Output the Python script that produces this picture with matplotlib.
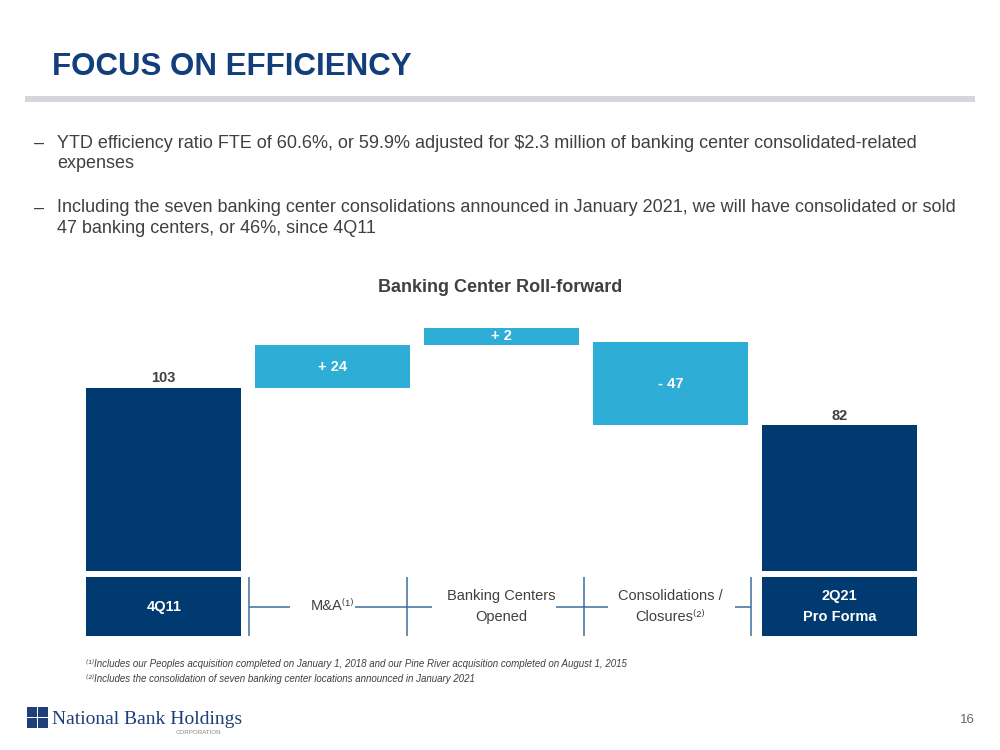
import matplotlib.pyplot as plt
from matplotlib.patches import Rectangle

# waterfall data
categories = ["4Q11", "M&A", "Banking Centers\nOpened", "Consolidations /\nClosures", "2Q21\nPro Forma"]
cat_notes = ["", "\u207d\u00b9\u207e", "", "\u207d\u00b2\u207e", ""]
changes = [103, 24, 2, -47, 82]
is_total = [True, False, False, False, True]

bullets = [
    "YTD efficiency ratio FTE of 60.6%, or 59.9% adjusted for $2.3 million of banking center consolidated-related\nexpenses",
    "Including the seven banking center consolidations announced in January 2021, we will have consolidated or sold\n47 banking centers, or 46%, since 4Q11",
]
footnotes = [
    "\u207d\u00b9\u207eIncludes our Peoples acquisition completed on January 1, 2018 and our Pine River acquisition completed on August 1, 2015",
    "\u207d\u00b2\u207eIncludes the consolidation of seven banking center locations announced in January 2021",
]

NAVY = "#003A70"
LIGHT = "#2EAED6"
GREY = "#404040"
LINE = "#3C6D9C"
FONT = ["Liberation Sans", "DejaVu Sans"]

plt.rcParams["font.family"] = FONT

W, H = 1000, 750
fig = plt.figure(figsize=(10, 7.5), dpi=100)


def fx(px):
    return px / W


def fy(py):
    return 1 - py / H


# header
fig.text(fx(52), fy(67), "FOCUS ON EFFICIENCY", fontsize=22.5, fontweight="bold",
         color="#123F7C", va="center", ha="left",
         family=["Liberation Sans Narrow", "Liberation Sans"])
fig.patches.append(Rectangle((fx(25), fy(102)), fx(950), 6 / H, transform=fig.transFigure,
                             facecolor="#D4D6DC", edgecolor="none"))

# bullets
for y, txt in zip([143, 208], bullets):
    fig.text(fx(34), fy(y), "\u2013", fontsize=13, color=GREY, va="center")
    fig.text(fx(57), fy(y) + 8.5 / H, txt, fontsize=13, color=GREY, va="top", linespacing=1.28)

fig.text(0.5, fy(288), "Banking Center Roll-forward", fontsize=13, fontweight="bold",
         color=GREY, ha="center", va="center")

# bars
ax = fig.add_axes([fx(86), fy(571), fx(831), 271 / H])
ax.set_xlim(-0.46, 4.46)
ax.set_ylim(0, 152.5)
ax.axis("off")

min_h = 10  # keep tiny steps readable
running = 0
for i, (v, tot) in enumerate(zip(changes, is_total)):
    if tot:
        ax.bar(i, v, width=0.92, bottom=0, color=NAVY)
        ax.text(i, v + 5.5, str(v), ha="center", va="center", fontsize=10.5,
                fontweight="bold", color=GREY)
        running = v
    else:
        if v > 0:
            bottom, height = running, max(v, min_h)
        else:
            bottom, height = running + v, -v
        ax.bar(i, height, width=0.92, bottom=bottom, color=LIGHT)
        lab = f"+ {v}" if v > 0 else f"- {abs(v)}"
        ax.text(i, bottom + height / 2, lab, ha="center", va="center", fontsize=10.5,
                fontweight="bold", color="white", clip_on=False)
        running += v

# category row
ax2 = fig.add_axes([fx(86), fy(636), fx(831), 59 / H])
ax2.set_xlim(-0.46, 4.46)
ax2.set_ylim(0, 1)
ax2.axis("off")
for i, (cat, note, tot) in enumerate(zip(categories, cat_notes, is_total)):
    if tot:
        ax2.add_patch(Rectangle((i - 0.46, 0), 0.92, 1, facecolor=NAVY, edgecolor="none"))
        ax2.text(i, 0.5, cat, ha="center", va="center", fontsize=10.5, fontweight="bold",
                 color="white", linespacing=1.7)
    else:
        ax2.text(i, 0.5, cat + note, ha="center", va="center", fontsize=10.5,
                 color=GREY, linespacing=1.6)

for xv in [0.505, 1.44, 2.49, 3.48]:
    ax2.plot([xv, xv], [0, 1], color=LINE, lw=1.1, solid_capstyle="butt")
for x0, x1 in [(0.505, 0.75), (1.13, 1.59), (2.32, 2.63), (3.38, 3.48)]:
    ax2.plot([x0, x1], [0.5, 0.5], color=LINE, lw=1.1, solid_capstyle="butt")

# footnotes
for y, txt in zip([664, 679], footnotes):
    fig.text(fx(86), fy(y), txt, fontsize=7.0, style="italic", color=GREY, va="center")

# logo
for (sx, sy) in [(27, 707), (38, 707), (27, 718), (38, 718)]:
    fig.patches.append(Rectangle((fx(sx), fy(sy + 10)), fx(10), 10 / H, transform=fig.transFigure,
                                 facecolor="#1F3F7A", edgecolor="none"))
fig.text(fx(52), fy(719), "National Bank Holdings", fontsize=14, color="#1F3F7A",
         family=["Liberation Serif", "DejaVu Serif"], va="center", ha="left")
fig.text(fx(176), fy(733), "CORPORATION", fontsize=4.5, color="#888888", va="center", ha="left")
fig.text(fx(975), fy(720), "16", fontsize=9.5, color="#666666", va="center", ha="right")

fig.savefig("out.png", dpi=100)
